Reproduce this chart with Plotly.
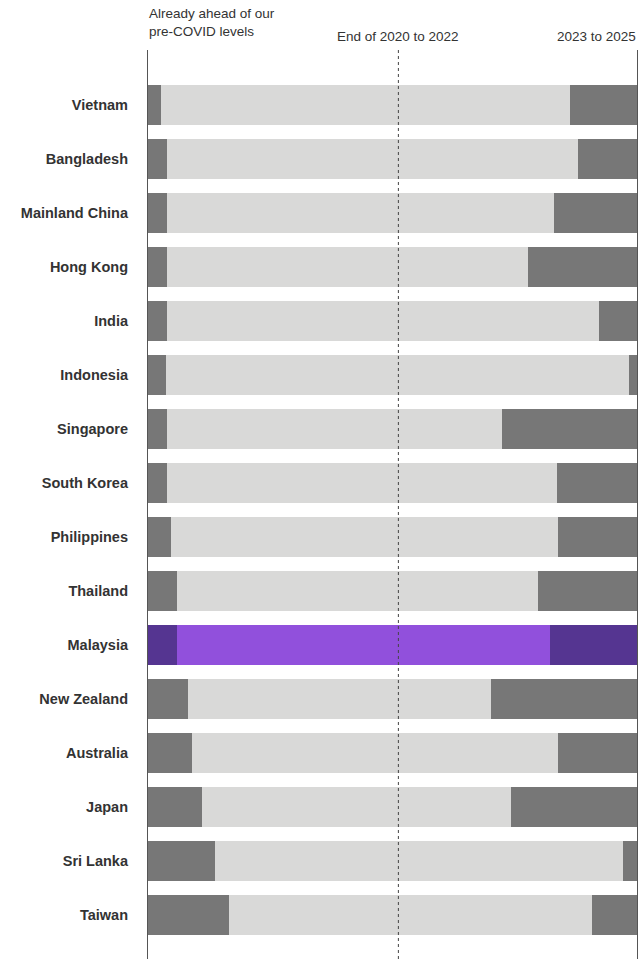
import plotly.graph_objects as go

countries = ["Vietnam", "Bangladesh", "Mainland China", "Hong Kong", "India", "Indonesia",
             "Singapore", "South Korea", "Philippines", "Thailand", "Malaysia", "New Zealand",
             "Australia", "Japan", "Sri Lanka", "Taiwan"]
already_ahead = [2.9, 4.1, 4.1, 4.1, 4.1, 3.9, 4.1, 4.1, 4.9, 6.1, 6.1, 8.4, 9.2, 11.2, 13.8, 16.7]
end2020_2022 = [83.3, 83.7, 78.8, 73.5, 88.0, 94.3, 68.2, 79.4, 78.8, 73.5, 76.0, 61.7, 74.5, 62.9, 83.1, 73.9]
y2023_2025 = [13.8, 12.2, 17.1, 22.4, 7.9, 1.8, 27.7, 16.5, 16.3, 20.4, 17.9, 29.9, 16.3, 25.9, 3.1, 9.4]
header_labels = ["Already ahead of our<br>pre-COVID levels", "End of 2020 to 2022", "2023 to 2025"]
highlight = "Malaysia"

DARK = "#777777"
LIGHT = "#d9d9d8"
PURPLE_DARK = "#553591"
PURPLE_LIGHT = "#9150dc"
FONT = "Liberation Sans, Arial, sans-serif"

c_dark = [PURPLE_DARK if c == highlight else DARK for c in countries]
c_light = [PURPLE_LIGHT if c == highlight else LIGHT for c in countries]

fig = go.Figure()
for vals, cols, name in [(already_ahead, c_dark, "ahead"), (end2020_2022, c_light, "mid"), (y2023_2025, c_dark, "late")]:
    fig.add_trace(go.Bar(y=countries, x=vals, orientation="h", marker=dict(color=cols, line=dict(width=0)),
                         width=0.74, name=name, showlegend=False, hoverinfo="x+y"))

fig.update_layout(
    barmode="stack",
    width=641, height=959,
    margin=dict(l=147, r=3, t=50, b=0),
    plot_bgcolor="white", paper_bgcolor="white",
    font=dict(family=FONT, color="#333333"),
    xaxis=dict(range=[0, 100], showgrid=False, zeroline=False, showticklabels=False, fixedrange=True),
    yaxis=dict(categoryorder="array", categoryarray=countries, range=[15.815, -1.0185],
               showgrid=False, zeroline=False, ticks="", ticklabelstandoff=18,
               tickfont=dict(size=14.5, family=FONT, color="#333333", weight="bold")),
)

# vertical lines
fig.add_shape(type="line", xref="x", yref="paper", x0=0, x1=0, y0=0, y1=1, line=dict(color="#555555", width=2), layer="above")
fig.add_shape(type="line", xref="x", yref="paper", x0=100, x1=100, y0=0, y1=1, line=dict(color="#555555", width=2), layer="above")
fig.add_shape(type="line", xref="x", yref="paper", x0=51.2, x1=51.2, y0=0, y1=1, line=dict(color="#444444", width=1, dash="dot"), layer="above")

# headers
fig.add_annotation(text=header_labels[0], xref="x", yref="paper", x=0, y=1, yshift=9, xanchor="left", yanchor="bottom",
                   align="left", showarrow=False, font=dict(size=13.5, color="#333333"))
fig.add_annotation(text=header_labels[1], xref="x", yref="paper", x=51.2, y=1, yshift=4, xanchor="center", yanchor="bottom",
                   showarrow=False, font=dict(size=13.5, color="#333333"))
fig.add_annotation(text=header_labels[2], xref="x", yref="paper", x=100, y=1, yshift=4, xanchor="right", yanchor="bottom",
                   showarrow=False, font=dict(size=13.5, color="#333333"))

fig.write_html("out.html", config={"displayModeBar": False},
               post_script="document.body.style.margin='0';document.body.style.overflow='hidden';")
